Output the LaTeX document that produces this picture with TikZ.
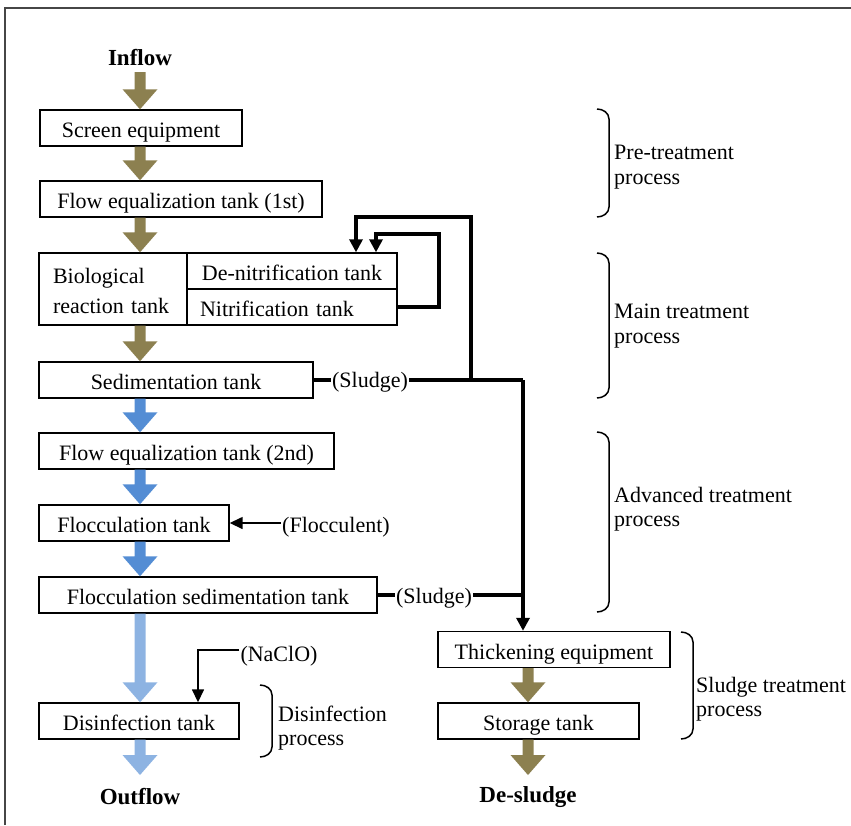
\documentclass[tikz,border=0pt]{standalone}
\usepackage{fontspec}
\setmainfont{Liberation Serif}
\usetikzlibrary{arrows.meta,calc}
\definecolor{olivec}{RGB}{140,128,80}
\definecolor{bluec}{RGB}{84,141,212}
\definecolor{lbluec}{RGB}{141,179,226}
\definecolor{framec}{RGB}{70,70,70}
% fat flow arrow: #1 = x (pt), #2 = start anchor, #3 = end anchor, #4 = colour
\newcommand\fatarr[4]{\fill[#4] let \p1=(#2), \p2=(#3) in
  (#1pt-5.5pt,\y1) -- (#1pt-5.5pt,\y2+20pt) -- (#1pt-17.5pt,\y2+20pt) -- (#1pt,\y2)
  -- (#1pt+17.5pt,\y2+20pt) -- (#1pt+5.5pt,\y2+20pt) -- (#1pt+5.5pt,\y1) -- cycle;}
% bracket: #1 = left x, #2 = top y, #3 = bottom y
\newcommand\brkt[3]{\draw[brk] (#1,#2) to[out=0,in=90] (#1+12,#2+10) -- (#1+12,#3-10) to[out=-90,in=0] (#1,#3);}
\begin{document}
\begin{tikzpicture}[x=1pt,y=-1pt,
  font=\fontsize{22}{24.5}\selectfont,
  box/.style={draw, line width=1.4pt, minimum height=36pt, inner sep=0pt,
              text height=19pt, text depth=0pt},
  ttl/.style={font=\bfseries\fontsize{23}{26}\selectfont, inner sep=0pt},
  lbl/.style={align=left, inner sep=0pt, anchor=west},
  tag/.style={inner xsep=1pt, inner ysep=0pt},
  thickln/.style={line width=3.5pt},
  thinln/.style={line width=1.5pt},
  tipbig/.style={-{Triangle[width=13pt,length=13pt]}},
  tipsmall/.style={-{Triangle[width=12pt,length=13pt]}},
  brk/.style={line width=1.5pt}]
\useasboundingbox (0,0) rectangle (851,825);
% partial frame
\coordinate (fbl) at (5,825);
\coordinate (ftl) at (5,8);
\coordinate (ftr) at (851,8);
\draw[framec, line width=1.5pt] (fbl) -- (ftl) -- (ftr);

% titles
\node[ttl] (inflow) at (140,58) {Inflow};
\node[ttl] (outflow) at (140,797) {Outflow};
\node[ttl] (desludge) at (528,797) {De-sludge};
\coordinate (intail) at (140,72);
\coordinate (outtip) at (140,775);
\coordinate (desltip) at (528,775);

% boxes
\node[box, minimum width=202pt] (screen) at (141,128) {Screen equipment};
\node[box, minimum width=282pt] (flow1) at (181,199) {Flow equalization tank (1st)};
\node[draw, line width=1.4pt, minimum height=72pt, text width=120pt, inner xsep=14pt,
      inner ysep=0pt, align=left, font=\fontsize{22}{30}\selectfont] (bio) at (113,289)
      {\rule{0pt}{19pt}Biological\\reaction tank};
\node[box, minimum width=210pt] (denit) at (292,271) {De-nitrification tank};
\node[box, text width=184pt, inner xsep=13pt, align=left] (nitr) at (292,307) {Nitrification tank};
\node[box, minimum width=274pt] (sed) at (176,380) {Sedimentation tank};
\node[box, minimum width=295pt] (flow2) at (186.5,451) {Flow equalization tank (2nd)};
\node[box, minimum width=190pt] (floc) at (134,523) {Flocculation tank};
\node[box, minimum width=338pt] (fsed) at (208,595) {Flocculation sedimentation tank};
\node[box, minimum width=200pt] (dis) at (139,721) {Disinfection tank};
\node[box, minimum width=232pt] (thick) at (554,649.5) {Thickening equipment};
\node[box, minimum width=201pt] (stor) at (538.5,721) {Storage tank};

% fat flow arrows
\fatarr{140}{intail}{screen.north}{olivec}
\fatarr{140}{screen.south}{flow1.north}{olivec}
\fatarr{140}{flow1.south}{bio.north}{olivec}
\fatarr{140}{bio.south}{sed.north}{olivec}
\fatarr{140}{sed.south}{flow2.north}{bluec}
\fatarr{140}{flow2.south}{floc.north}{bluec}
\fatarr{140}{floc.south}{fsed.north}{bluec}
\fatarr{140}{fsed.south}{dis.north}{lbluec}
\fatarr{140}{dis.south}{outtip}{lbluec}
\fatarr{528}{thick.south}{stor.north}{olivec}
\fatarr{528}{stor.south}{desltip}{olivec}

% sludge lines
\node[tag] (sl1) at (370,382) {(Sludge)};
\node[tag] (sl2) at (434,598) {(Sludge)};
\coordinate (j1) at (471,380);
\coordinate (j2) at (523,380);
\coordinate (j3) at (523,595);
\draw[thickln] (sed.east) -- (sed.east -| sl1.west);
\draw[thickln] (sed.east -| sl1.east) -- (j2);
\draw[thickln, tipbig] (j2) -- (j2 |- thick.north);
\draw[thickln] (fsed.east) -- (fsed.east -| sl2.west);
\draw[thickln] (fsed.east -| sl2.east) -- (j3);

% return loops
\coordinate (r1a) at (471,217);
\coordinate (r1b) at (356,217);
\draw[thickln, tipbig] (j1) -- (r1a) -- (r1b) -- (r1b |- denit.north);
\coordinate (r2a) at (439,307);
\coordinate (r2b) at (439,234);
\coordinate (r2c) at (376,234);
\draw[thickln, tipbig] (nitr.east) -- (r2a) -- (r2b) -- (r2c) -- (r2c |- denit.north);

% chemicals
\node[tag] (flocc) at (336,527) {(Flocculent)};
\draw[thinln, tipsmall] (floc.east -| flocc.west) -- (floc.east);
\node[tag] (nacl) at (279,656) {(NaClO)};
\coordinate (nx) at (198,650);
\draw[thinln, tipsmall] (nacl.west |- nx) -- (nx) -- (nx |- dis.north);

% brackets and process labels
\brkt{597}{109}{217}
\node[lbl] (pre) at (614,167) {Pre-treatment\\process};
\brkt{597}{253}{398}
\node[lbl] (main) at (614,326) {Main treatment\\process};
\brkt{597}{432}{612}
\node[lbl] (adv) at (614,509) {Advanced treatment\\process};
\brkt{260}{685}{757}
\node[lbl] (disp) at (278,728) {Disinfection\\process};
\brkt{681}{632}{739}
\node[lbl] (slp) at (696,699) {Sludge treatment\\process};
\end{tikzpicture}
\end{document}
